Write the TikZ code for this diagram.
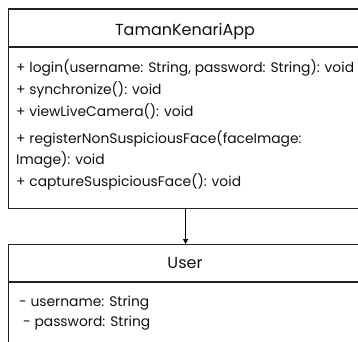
\documentclass[tikz,border=0pt]{standalone}
\usepackage{fontspec}
\setmainfont{Poppins}
\usetikzlibrary{arrows.meta}
\definecolor{linec}{HTML}{222222}
\definecolor{textc}{HTML}{111111}
\tikzset{
  classbox/.style={draw=linec, line width=1.2pt, fill=none, anchor=north west, minimum width=354pt, inner sep=0pt},
  titletext/.style={font=\fontsize{16}{18}\selectfont, text=textc, inner sep=0pt},
  member/.style={font=\fontsize{13.85}{15}\selectfont, text=textc, anchor=west, inner sep=0pt, text height=10pt, text depth=3pt},
  sep/.style={draw=linec, line width=1.2pt},
  conn/.style={draw=black, line width=1.2pt, -{Triangle[length=5pt,width=5pt]}}
}
\begin{document}
\begin{tikzpicture}[x=1pt,y=1pt]
\useasboundingbox (0,0) rectangle (358,341);
\clip (0,0) rectangle (358,341);
% TamanKenariApp class
\node[classbox, minimum height=199.5pt] (app) at (8,332.5) {};
\coordinate (appsepL) at (8,294);
\coordinate (appsepR) at (362,294);
\draw[sep] (appsepL) -- (appsepR);
\node[titletext] (apptitle) at (185,310) {TamanKenariApp};
\node[member] (m1) at (16,272) {+ login(username: String, password: String): void};
\node[member] (m2) at (16,250.5) {+ synchronize(): void};
\node[member] (m3) at (16,228.5) {+ viewLiveCamera(): void};
\node[member] (m4) at (16,201.5) {+ registerNonSuspiciousFace(faceImage:};
\node[member] (m5) at (16,180.5) {Image): void};
\node[member] (m6) at (16,158) {+ captureSuspiciousFace(): void};
% User class
\node[classbox, minimum height=120pt] (user) at (8,97) {};
\coordinate (usersepL) at (8,59);
\coordinate (usersepR) at (362,59);
\draw[sep] (usersepL) -- (usersepR);
\node[titletext] (usertitle) at (185,78) {User};
\node[member] (a1) at (19,38) {- username: String};
\node[member] (a2) at (23,18) {- password: String};
% connector
\draw[conn] (app.south) -- (user.north);
\end{tikzpicture}
\end{document}
